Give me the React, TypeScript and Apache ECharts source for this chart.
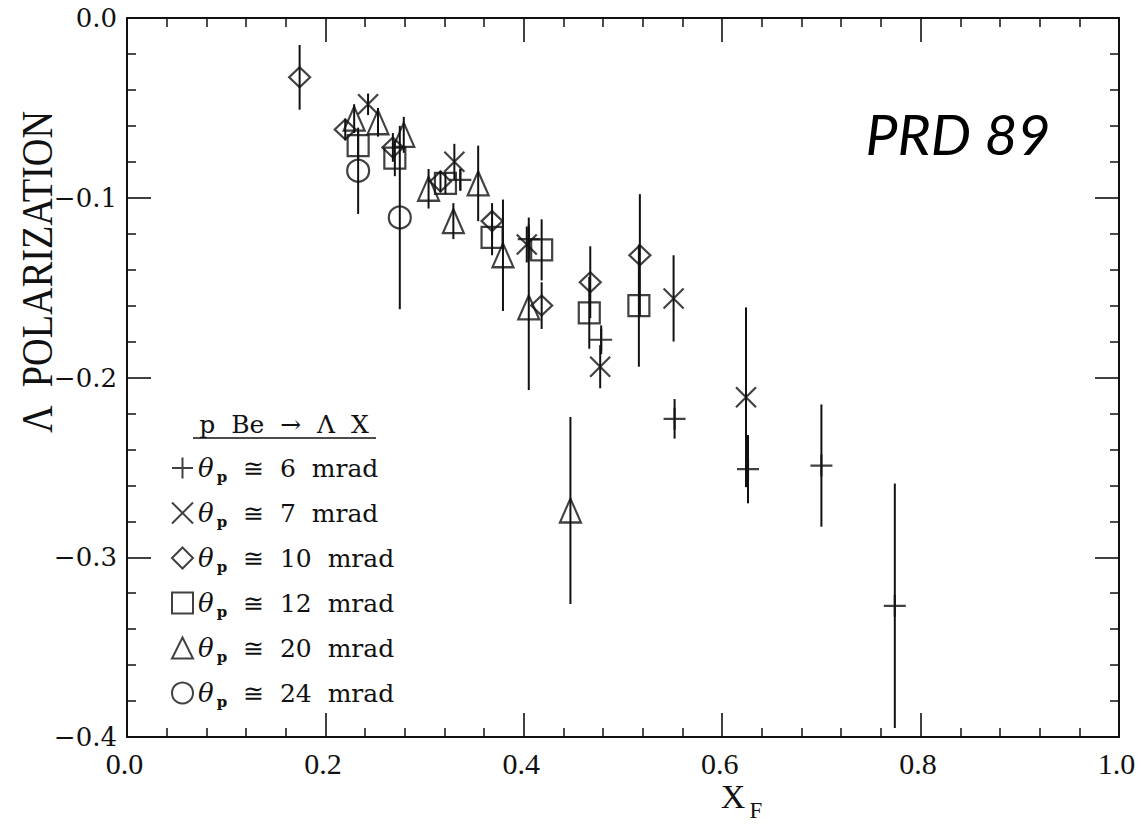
import React, { useEffect, useRef } from 'react';
import * as echarts from 'echarts';

// [xF, polarization, error]
const plus6: number[][] = [
  [0.336, -0.090, 0.006],
  [0.405, -0.123, 0.012],
  [0.478, -0.179, 0.008],
  [0.552, -0.223, 0.011],
  [0.626, -0.251, 0.019],
  [0.700, -0.249, 0.034],
  [0.774, -0.327, 0.068],
];
const cross7: number[][] = [
  [0.243, -0.048, 0.006],
  [0.330, -0.080, 0.010],
  [0.403, -0.126, 0.010],
  [0.477, -0.194, 0.012],
  [0.551, -0.156, 0.024],
  [0.624, -0.211, 0.050],
];
const diamond10: number[][] = [
  [0.174, -0.033, 0.018],
  [0.220, -0.062, 0.006],
  [0.268, -0.072, 0.008],
  [0.316, -0.091, 0.006],
  [0.368, -0.113, 0.010],
  [0.418, -0.160, 0.013],
  [0.467, -0.147, 0.020],
  [0.517, -0.132, 0.034],
];
const square12: number[][] = [
  [0.233, -0.071, 0.008],
  [0.270, -0.078, 0.010],
  [0.321, -0.092, 0.006],
  [0.368, -0.122, 0.010],
  [0.418, -0.129, 0.017],
  [0.466, -0.164, 0.020],
  [0.516, -0.160, 0.034],
];
const triangle20: number[][] = [
  [0.229, -0.056, 0.008],
  [0.253, -0.058, 0.008],
  [0.279, -0.065, 0.010],
  [0.304, -0.095, 0.011],
  [0.329, -0.113, 0.010],
  [0.354, -0.092, 0.021],
  [0.379, -0.132, 0.031],
  [0.405, -0.161, 0.046],
  [0.447, -0.274, 0.052],
];
const circle24: number[][] = [
  [0.233, -0.085, 0.024],
  [0.275, -0.111, 0.051],
];

const seriesNames = ['6', '7', '10', '12', '20', '24'];
const xTicks = [0, 0.2, 0.4, 0.6, 0.8, 1.0];
const yTicks = [0, -0.1, -0.2, -0.3, -0.4];

const INK = '#111';

const App: React.FC = () => {
  const ref = useRef<HTMLDivElement>(null);

  useEffect(() => {
    if (!ref.current) return;
    const chart = echarts.init(ref.current, undefined, { renderer: 'svg' });

    const groups = [
      { name: seriesNames[0], data: plus6, symbol: 'path://M10,0L10,20M0,10L20,10', size: 22 },
      { name: seriesNames[1], data: cross7, symbol: 'path://M0,0L20,20M20,0L0,20', size: 20 },
      { name: seriesNames[2], data: diamond10, symbol: 'diamond', size: [21, 20] },
      { name: seriesNames[3], data: square12, symbol: 'rect', size: 21 },
      { name: seriesNames[4], data: triangle20, symbol: 'triangle', size: [21, 24] },
      { name: seriesNames[5], data: circle24, symbol: 'circle', size: 22 },
    ];

    const allErr = groups.flatMap((g) => g.data);

    const xAxisBase: any = {
      type: 'value',
      min: 0,
      max: 1,
      interval: 0.2,
      axisLine: { onZero: false, lineStyle: { color: INK, width: 2 } },
      axisTick: { inside: true, length: 24, lineStyle: { color: INK, width: 1.6 } },
      minorTick: { show: true, splitNumber: 5, length: 9, lineStyle: { color: INK, width: 1.5 } },
      splitLine: { show: false },
      minorSplitLine: { show: false },
    };
    const yAxisBase: any = {
      type: 'value',
      min: -0.4,
      max: 0,
      interval: 0.1,
      axisLine: { onZero: false, lineStyle: { color: INK, width: 2 } },
      axisTick: { inside: true, length: 24, lineStyle: { color: INK, width: 1.6 } },
      minorTick: { show: true, splitNumber: 5, length: 9, lineStyle: { color: INK, width: 1.5 } },
      splitLine: { show: false },
      minorSplitLine: { show: false },
    };

    const option: any = {
      animation: false,
      backgroundColor: '#fff',
      grid: { left: 127, right: 24, top: 18, bottom: 94, containLabel: false },
      xAxis: [
        {
          ...xAxisBase,
          position: 'bottom',
          axisLabel: {
            formatter: (v: number) => (xTicks.some((t) => Math.abs(t - v) < 1e-9) ? v.toFixed(1) : ''),
            fontFamily: 'Liberation Serif',
            fontSize: 30,
            color: INK,
            margin: 11,
            padding: [0, 5, 0, 0],
          },
        },
        { ...xAxisBase, position: 'top', axisLabel: { show: false } },
      ],
      yAxis: [
        {
          ...yAxisBase,
          position: 'left',
          axisLabel: {
            formatter: (v: number) =>
              yTicks.some((t) => Math.abs(t - v) < 1e-9)
                ? (v < -1e-9 ? '\u2212' + Math.abs(v).toFixed(1) : '0.0')
                : '',
            fontFamily: 'DejaVu Serif',
            fontSize: 26,
            color: INK,
            margin: 10,
          },
        },
        { ...yAxisBase, position: 'right', axisLabel: { show: false } },
      ],
      legend: {
        data: seriesNames,
        orient: 'vertical',
        left: 166,
        top: 450,
        itemWidth: 21,
        itemHeight: 21,
        itemGap: 16,
        selectedMode: false,
        formatter: (name: string) => `{th|\u03B8}{sub|p}{t|  \u2245  ${name}  mrad}`,
        textStyle: {
          color: INK,
          fontFamily: 'DejaVu Serif',
          fontSize: 25,
          rich: {
            th: { fontFamily: 'DejaVu Serif', fontStyle: 'italic', fontSize: 26, color: INK },
            sub: { fontFamily: 'DejaVu Serif', fontWeight: 'bold', fontSize: 15, color: INK, padding: [17, 0, 0, 3] },
            t: { fontFamily: 'DejaVu Serif', fontSize: 25, color: INK },
          },
        },
      },
      graphic: [
        {
          type: 'text',
          x: 958,
          y: 133,
          style: { text: 'PRD 89', font: 'italic 57px Lato', fill: '#000', align: 'center', verticalAlign: 'middle' },
        },
        {
          type: 'text',
          x: 37,
          y: 272,
          rotation: Math.PI / 2,
          scaleX: 0.87,
          style: {
            text: '\u039B  POLARIZATION',
            font: '44px "Liberation Serif"',
            fill: INK,
            align: 'center',
            verticalAlign: 'middle',
          },
        },
        {
          type: 'text',
          x: 733,
          y: 796,
          style: { text: 'X', font: '34px "Liberation Serif"', fill: INK, align: 'center', verticalAlign: 'middle' },
        },
        {
          type: 'text',
          x: 756,
          y: 810,
          style: { text: 'F', font: '23px "Liberation Serif"', fill: INK, align: 'center', verticalAlign: 'middle' },
        },
        {
          type: 'text',
          x: 284,
          y: 424,
          style: {
            text: 'p  Be  \u2192  \u039B  X',
            font: '25px "DejaVu Serif"',
            fill: INK,
            align: 'center',
            verticalAlign: 'middle',
          },
        },
        {
          type: 'line',
          shape: { x1: 193, y1: 438, x2: 376, y2: 438 },
          style: { stroke: INK, lineWidth: 1.6 },
        },
      ],
      series: [
        {
          type: 'custom',
          name: 'errors',
          xAxisIndex: 0,
          yAxisIndex: 0,
          data: allErr,
          encode: { x: 0, y: 1 },
          z: 1,
          renderItem: (params: any, api: any) => {
            const x = api.value(0);
            const y = api.value(1);
            const e = api.value(2);
            const p1 = api.coord([x, y + e]);
            const p2 = api.coord([x, y - e]);
            return {
              type: 'line',
              shape: { x1: p1[0], y1: p1[1], x2: p2[0], y2: p2[1] },
              style: { stroke: INK, lineWidth: 2 },
            };
          },
        },
        ...groups.map((g) => ({
          type: 'scatter',
          name: g.name,
          xAxisIndex: 0,
          yAxisIndex: 0,
          data: g.data.map((d) => [d[0], d[1]]),
          symbol: g.symbol,
          symbolSize: g.size,
          z: 2,
          itemStyle: { color: 'rgba(255,255,255,0)', borderColor: INK, borderWidth: 2.2 },
          emphasis: { disabled: true },
        })),
      ],
    };

    chart.setOption(option);
    return () => chart.dispose();
  }, []);

  return <div ref={ref} style={{ width: 1143, height: 831, margin: -8 }} />;
};

export default App;
